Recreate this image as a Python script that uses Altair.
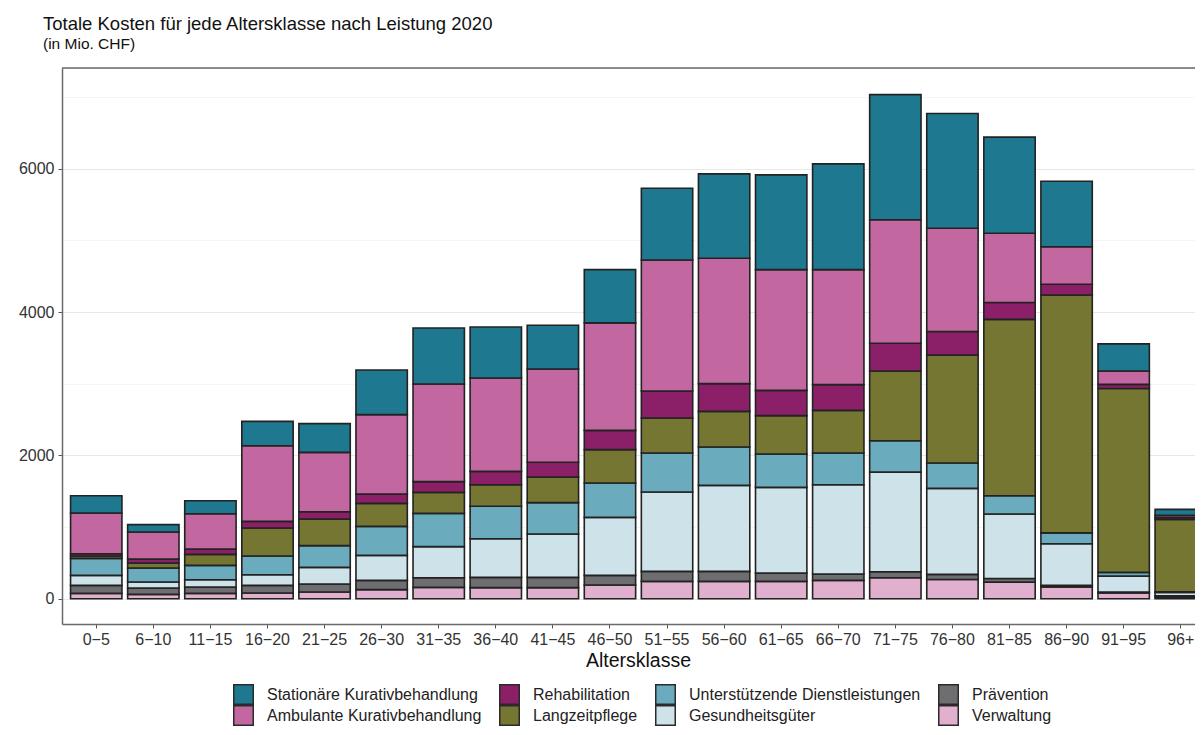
import altair as alt
import pandas as pd

age_groups = ["0−5", "6−10", "11−15", "16−20", "21−25", "26−30", "31−35", "36−40",
              "41−45", "46−50", "51−55", "56−60", "61−65", "66−70", "71−75", "76−80",
              "81−85", "86−90", "91−95", "96+"]

# Kosten in Mio. CHF (stack order from bottom to top)
verwaltung = [74, 60, 74, 79, 93, 126, 158, 154, 154, 191, 242, 242, 242, 256, 292, 268, 231, 165, 80, 20]
praevention = [112, 89, 89, 107, 112, 130, 135, 144, 144, 135, 139, 139, 116, 88, 85, 71, 51, 23, 14, 22]
gesundheitsgueter = [140, 84, 102, 149, 232, 349, 433, 539, 605, 809, 1108, 1200, 1195, 1247, 1389, 1201, 900, 579, 221, 45]
unterstuetzende = [237, 195, 200, 260, 303, 404, 465, 452, 437, 480, 545, 536, 467, 443, 437, 353, 254, 151, 52, 10]
langzeitpflege = [32, 70, 154, 391, 372, 321, 293, 302, 358, 465, 488, 497, 534, 594, 975, 1506, 2462, 3319, 2566, 1010]
rehabilitation = [33, 55, 74, 93, 102, 131, 149, 186, 205, 269, 377, 387, 353, 359, 386, 330, 236, 151, 57, 25]
ambulante = [567, 377, 493, 1056, 828, 1107, 1363, 1303, 1302, 1499, 1828, 1749, 1685, 1605, 1723, 1440, 965, 522, 188, 30]
stationaere = [242, 103, 181, 339, 401, 623, 782, 712, 610, 744, 1000, 1178, 1322, 1475, 1747, 1601, 1342, 914, 377, 85]

stack_names = ["Verwaltung", "Prävention", "Gesundheitsgüter", "Unterstützende Dienstleistungen",
               "Langzeitpflege", "Rehabilitation", "Ambulante Kurativbehandlung",
               "Stationäre Kurativbehandlung"]
series = [verwaltung, praevention, gesundheitsgueter, unterstuetzende,
          langzeitpflege, rehabilitation, ambulante, stationaere]

legend_order = ["Stationäre Kurativbehandlung", "Ambulante Kurativbehandlung",
                "Rehabilitation", "Langzeitpflege",
                "Unterstützende Dienstleistungen", "Gesundheitsgüter",
                "Prävention", "Verwaltung"]
legend_colors = ["#1E788F", "#C267A0",
                 "#8C2068", "#747632",
                 "#6AACBE", "#CDE3E9",
                 "#6E6E70", "#E2B0CF"]

rows = []
for rank, (name, vals) in enumerate(zip(stack_names, series)):
    for age, v in zip(age_groups, vals):
        rows.append({"Altersklasse": age, "Leistung": name, "Kosten": v, "Rang": rank})
df = pd.DataFrame(rows)

FONT = "Liberation Sans"
GRAY = "#6a6a6a"

bars = alt.Chart(df).mark_bar(stroke="#222222", strokeWidth=1.6, clip=True).encode(
    x=alt.X("Altersklasse:N", sort=age_groups,
            scale=alt.Scale(range=[0, 1153], paddingInner=0.1, paddingOuter=0.15),
            axis=alt.Axis(title="Altersklasse", labelAngle=0, labelFontSize=16, labelColor="#333333",
                          labelFont=FONT, titleFont=FONT, titleFontSize=19.5, titleFontWeight="normal",
                          titleColor="#111111", titleX=576, titlePadding=4,
                          domainColor=GRAY, domainWidth=1.5, tickColor="#555555", tickSize=4,
                          labelPadding=3, grid=False)),
    y=alt.Y("Kosten:Q", stack="zero",
            scale=alt.Scale(domain=[-353, 7405], nice=False, zero=False),
            axis=alt.Axis(title=None, values=[0, 1000, 2000, 3000, 4000, 5000, 6000, 7000], format="d",
                          labelExpr="datum.value % 2000 === 0 ? datum.label : ''",
                          labelFontSize=16, labelColor="#333333", labelFont=FONT, labelPadding=4,
                          domainColor=GRAY, domainWidth=1.5, tickSize=4,
                          tickColor={"condition": {"test": "datum.value % 2000 === 0", "value": "#555555"},
                                     "value": "rgba(0,0,0,0)"},
                          grid=True,
                          gridColor={"condition": {"test": "datum.value % 2000 === 0", "value": "#e8e8e8"},
                                     "value": "#f3f3f3"},
                          gridWidth={"condition": {"test": "datum.value % 2000 === 0", "value": 1.2},
                                     "value": 0.8})),
    fill=alt.Fill("Leistung:N", scale=alt.Scale(domain=legend_order, range=legend_colors),
                  legend=alt.Legend(title=None, orient="none", legendX=171, legendY=616, columns=4,
                                    symbolType="square", symbolSize=380, symbolStrokeColor="#2a2a2a",
                                    symbolStrokeWidth=1.5, symbolOpacity=1, labelFont=FONT,
                                    labelFontSize=16, labelColor="#222222", labelOffset=13,
                                    labelLimit=400, clipHeight=21,
                                    columnPadding=17, rowPadding=0, padding=0)),
    order=alt.Order("Rang:Q", sort="ascending"),
)

border = alt.Chart(pd.DataFrame({"b": [0]})).mark_rule(color=GRAY, strokeWidth=1.5).encode(
    y=alt.value(0)
)

chart = alt.layer(bars, border).properties(
    width=1133, height=556,
    padding={"left": 54, "top": 60, "right": 0, "bottom": 103},
    autosize=alt.AutoSizeParams(type="none"),
    title=alt.TitleParams(text="Totale Kosten für jede Altersklasse nach Leistung 2020",
                          subtitle="(in Mio. CHF)", anchor="start", frame="group", dx=-19,
                          font=FONT, subtitleFont=FONT, fontSize=18.5, subtitleFontSize=15.5,
                          fontWeight="normal", color="#111111", subtitleColor="#111111",
                          offset=15, subtitlePadding=3),
).configure_view(stroke="transparent").configure(font=FONT, background="white")

chart.save("out.html", embed_options={"renderer": "svg", "actions": False})
